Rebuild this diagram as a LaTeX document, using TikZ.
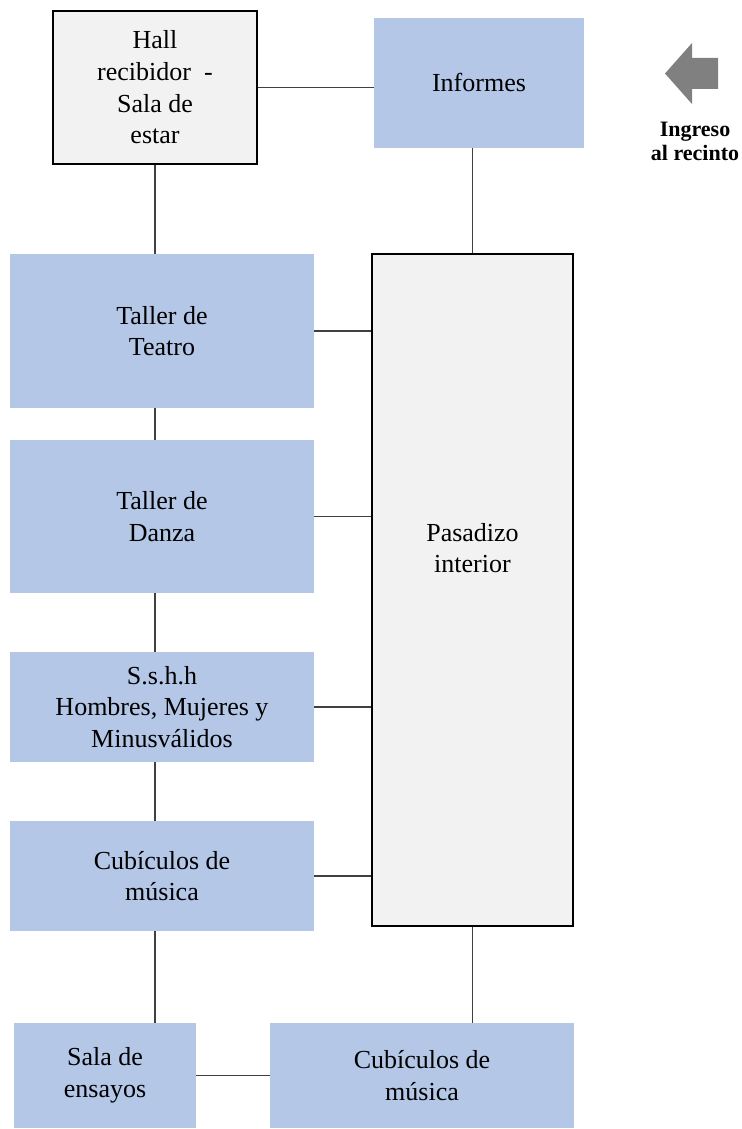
\documentclass[tikz,border=0pt]{standalone}
\usepackage{fontspec}
\setmainfont{Liberation Serif}
\usepackage{tikz}

\definecolor{areablue}{HTML}{B4C7E7}
\definecolor{hallgray}{HTML}{F2F2F2}
\definecolor{arrowgray}{HTML}{808080}
\definecolor{linkgray}{HTML}{404040}

\tikzset{
  area/.style={rectangle, fill=areablue, align=center, inner sep=0pt,
    font=\fontsize{13}{15.8}\selectfont},
  hallbox/.style={area, fill=hallgray, draw=black, line width=1pt},
  link/.style={draw=linkgray, line width=0.6pt}
}

\begin{document}
\begin{tikzpicture}[x=0.5pt, y=-0.5pt]
  \useasboundingbox (0,0) rectangle (741,1129);
  % Areas
  \node[hallbox, minimum width=102pt, minimum height=76.5pt] (hall) at (155,87.5)
    {Hall\\recibidor\ \ -\\Sala de\\estar};
  \node[area, minimum width=105pt, minimum height=65pt] (informes) at (479,82.7) {Informes};
  \node[hallbox, minimum width=100.5pt, minimum height=336pt] (pasadizo) at (472.5,590) {};
  \node[area, fill=none] (pasadizotxt) at (472.5,548) {Pasadizo\\interior};
  \node[area, minimum width=152pt, minimum height=77pt] (teatro) at (162,331) {Taller de\\Teatro};
  \node[area, minimum width=152pt, minimum height=76.5pt] (danza) at (162,516.5) {Taller de\\Danza};
  \node[area, minimum width=152pt, minimum height=55pt] (sshh) at (162,707)
    {S.s.h.h\\Hombres, Mujeres y\\Minusválidos};
  \node[area, minimum width=152pt, minimum height=55pt] (cubic) at (162,876) {Cubículos de\\música};
  \node[area, minimum width=91pt, minimum height=52.5pt] (sala) at (105,1075.5) {Sala de\\ensayos};
  \node[area, minimum width=152pt, minimum height=52.5pt] (cubicb) at (422,1075.5) {Cubículos de\\música};
  % Links
  \draw[link] (hall.east) -- (hall.east -| informes.west);
  \draw[link] (informes.south -| pasadizo.north) -- (pasadizo.north);
  \foreach \a/\b in {hall/teatro, teatro/danza, danza/sshh, sshh/cubic, cubic/sala}
    \draw[link] (hall.south |- \a.south) -- (hall.south |- \b.north);
  \foreach \a in {teatro, danza, sshh, cubic}
    \draw[link] (\a.east) -- (\a.east -| pasadizo.west);
  \draw[link] (pasadizo.south) -- (pasadizo.south |- cubicb.north);
  \draw[link] (sala.east) -- (sala.east -| cubicb.west);
  % Entrance
  \fill[arrowgray] (665,73.5) -- (692,43) -- (692,58) -- (718,58) -- (718,89)
    -- (692,89) -- (692,104) -- cycle;
  \node[font=\bfseries\fontsize{11}{12}\selectfont, align=center] (ingreso) at (695,141)
    {Ingreso\\al recinto};
\end{tikzpicture}
\end{document}
